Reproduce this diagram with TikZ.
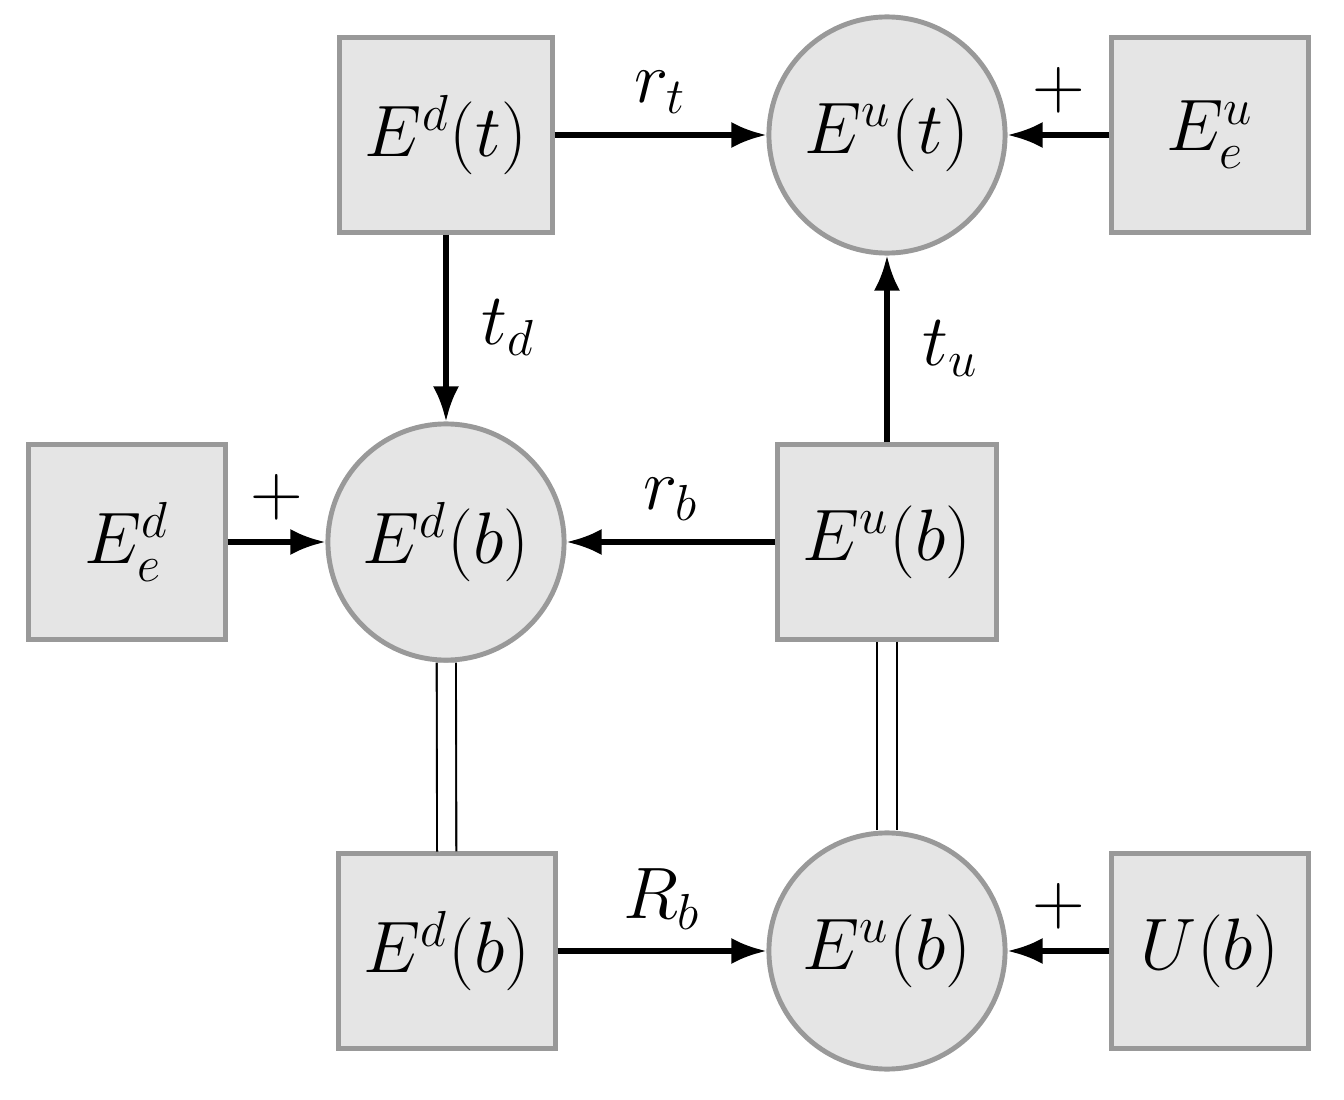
\documentclass[tikz,border=0pt]{standalone}
\usetikzlibrary{arrows.meta}
\begin{document}
\begin{tikzpicture}[x=0.01cm,y=-0.01cm,
  every node/.style={font=\fontsize{21}{25}\selectfont},
  box/.style={draw=black!40,fill=black!10,line width=1.4pt,minimum width=#1,minimum height=1.94cm,inner sep=0pt},
  box/.default=1.96cm,
  circ/.style={circle,draw=black!40,fill=black!10,line width=1.4pt,minimum size=2.36cm,inner sep=0pt},
  arr/.style={line width=1.5pt,-{Latex[length=0.35cm,width=0.26cm]}},
  dbl/.style={double,double distance=0.17cm,line width=0.6pt},
  lab/.style={midway,above=2pt}]
\useasboundingbox (0,0) rectangle (1344,1100);
\node[box=2.12cm] (edt) at (446,135) {$E^d(t)$};
\node[circ] (eut) at (887,135) {$E^u(t)$};
\node[box] (eue) at (1210,135) {$E^u_e$};
\node[box] (ede) at (127,542) {$E^d_e$};
\node[circ] (edb) at (446,542) {$E^d(b)$};
\node[box=2.18cm] (eub) at (887,542) {$E^u(b)$};
\node[box=2.16cm] (edbb) at (447,951) {$E^d(b)$};
\node[circ] (eubc) at (887,951) {$E^u(b)$};
\node[box] (ub) at (1210,951) {$U(b)$};
\draw[arr] (edt) -- node[lab] {$r_t$} (eut);
\draw[arr] (eue) -- node[lab] {$+$} (eut);
\draw[arr] (edt) -- node[midway,right=6pt] {$t_d$} (edb);
\draw[arr] (eub) -- node[midway,right=6pt] {$t_u$} (eut);
\draw[arr] (ede) -- node[lab] {$+$} (edb);
\draw[arr] (eub) -- node[lab] {$r_b$} (edb);
\draw[arr] (edbb) -- node[lab] {$R_b$} (eubc);
\draw[arr] (ub) -- node[lab] {$+$} (eubc);
\draw[dbl] (edb) -- (edbb);
\draw[dbl] (eub) -- (eubc);
\end{tikzpicture}
\end{document}
